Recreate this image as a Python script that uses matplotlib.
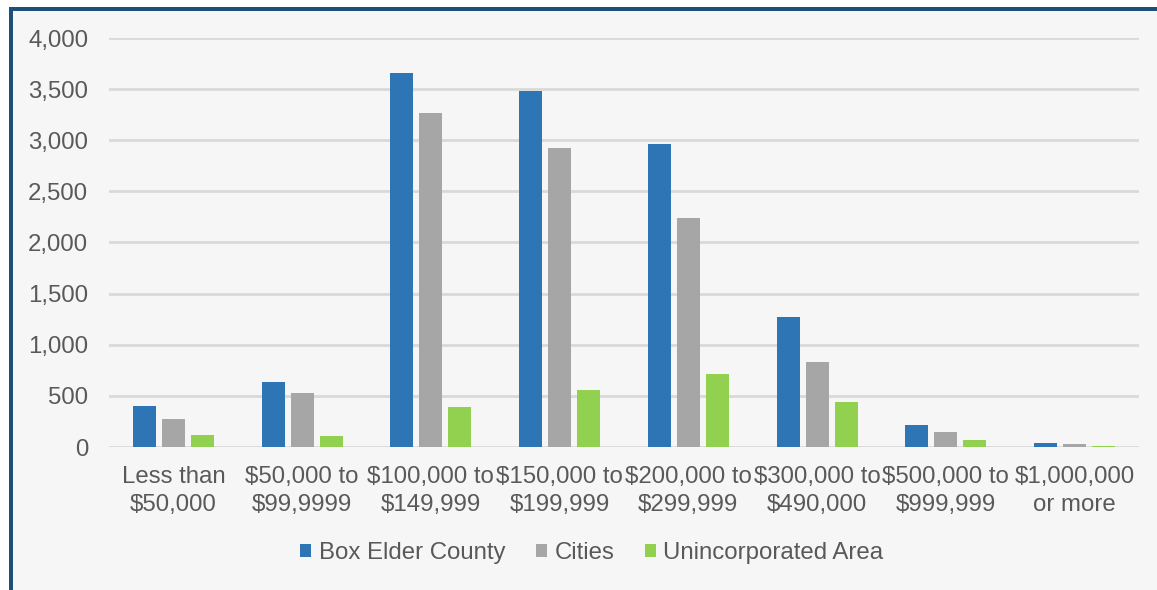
import matplotlib.pyplot as plt
import numpy as np
from matplotlib.patches import Rectangle

plt.rcParams['font.family'] = ['Liberation Sans', 'DejaVu Sans']

categories = ['Less than\n$50,000', '$50,000 to\n$99,9999', '$100,000 to\n$149,999',
              '$150,000 to\n$199,999', '$200,000 to\n$299,999', '$300,000 to\n$490,000',
              '$500,000 to\n$999,999', '$1,000,000\nor more']
box_elder = [400, 640, 3660, 3480, 2965, 1270, 215, 42]
cities = [275, 530, 3265, 2925, 2240, 830, 145, 30]
unincorporated = [120, 105, 390, 560, 715, 440, 65, 10]

series_names = ['Box Elder County', 'Cities', 'Unincorporated Area']
colors = ['#2E75B6', '#A6A6A6', '#92D050']
text_col = '#595959'

fig = plt.figure(figsize=(11.57, 5.9), dpi=100)
fig.patch.set_facecolor('white')
# panel background and blue frame
fig.patches.append(Rectangle((11/1157, 0), 1 - 11/1157, 1 - 9/590, transform=fig.transFigure,
                             facecolor='#F6F6F6', edgecolor='none', zorder=-2))
fig.patches.append(Rectangle((9/1157, 0), 4/1157, 1 - 7/590, transform=fig.transFigure,
                             facecolor='#1F4E79', edgecolor='none', zorder=-1))
fig.patches.append(Rectangle((9/1157, 1 - 11/590), 1 - 9/1157, 4/590, transform=fig.transFigure,
                             facecolor='#1F4E79', edgecolor='none', zorder=-1))

ax = fig.add_axes([109/1157, 1 - 447/590, (1139 - 109)/1157, (447 - 38)/590])
ax.set_zorder(2)
ax.set_facecolor('none')

x = np.arange(len(categories))
w = 0.18
step = 0.225
for i, (vals, name) in enumerate(zip([box_elder, cities, unincorporated], series_names)):
    ax.bar(x + (i - 1) * step, vals, width=w, color=colors[i], label=name, zorder=3)

ax.set_xlim(-0.5, len(categories) - 0.5)
ax.set_ylim(0, 4000)
ax.set_yticks(np.arange(0, 4001, 500))
ax.set_yticklabels([f'{v:,}' for v in range(0, 4001, 500)])
ax.grid(axis='y', color='#D9D9D9', linewidth=2, zorder=0)
ax.set_xticks(x)
ax.set_xticklabels(categories, linespacing=1.3)
for s in ax.spines.values():
    s.set_visible(False)
ax.tick_params(axis='both', length=0, labelsize=17.3, colors=text_col)
ax.tick_params(axis='y', pad=15)
ax.tick_params(axis='x', pad=14)

leg = fig.legend(loc='center', bbox_to_anchor=(592/1157, 1 - 553/590), ncol=3, frameon=False,
                 fontsize=17.3, handlelength=0.45, handleheight=0.45, handletextpad=0.3,
                 columnspacing=1.3)
for t in leg.get_texts():
    t.set_color(text_col)

fig.savefig('out.png', dpi=100, facecolor=fig.get_facecolor())
